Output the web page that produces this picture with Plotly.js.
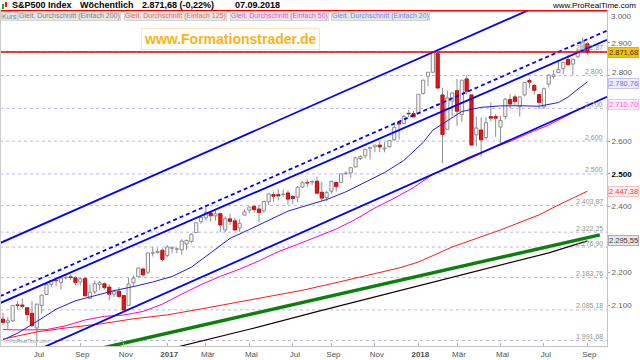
<!DOCTYPE html>
<html><head><meta charset="utf-8">
<script src="https://cdn.plot.ly/plotly-3.0.1.min.js"></script>
<style>html,body{margin:0;padding:0;background:#fff;}#chart{width:640px;height:360px;}</style>
</head><body><div id="chart"></div>
<script>
// ---- weekly S&P500 candles ----
const dates = ["2016-05-13","2016-05-20","2016-05-27","2016-06-03","2016-06-10","2016-06-17","2016-06-24","2016-07-01","2016-07-08","2016-07-15","2016-07-22","2016-07-29","2016-08-05","2016-08-12","2016-08-19","2016-08-26","2016-09-02","2016-09-09","2016-09-16","2016-09-23","2016-09-30","2016-10-07","2016-10-14","2016-10-21","2016-10-28","2016-11-04","2016-11-11","2016-11-18","2016-11-25","2016-12-02","2016-12-09","2016-12-16","2016-12-23","2016-12-30",
"2017-01-06","2017-01-13","2017-01-20","2017-01-27","2017-02-03","2017-02-10","2017-02-17","2017-02-24","2017-03-03","2017-03-10","2017-03-17","2017-03-24","2017-03-31","2017-04-07","2017-04-14","2017-04-21","2017-04-28","2017-05-05","2017-05-12","2017-05-19","2017-05-26","2017-06-02","2017-06-09","2017-06-16","2017-06-23","2017-06-30","2017-07-07","2017-07-14","2017-07-21","2017-07-28","2017-08-04","2017-08-11","2017-08-18","2017-08-25","2017-09-01","2017-09-08","2017-09-15","2017-09-22","2017-09-29","2017-10-06","2017-10-13","2017-10-20","2017-10-27","2017-11-03","2017-11-10","2017-11-17","2017-11-24","2017-12-01","2017-12-08","2017-12-15","2017-12-22","2017-12-29",
"2018-01-05","2018-01-12","2018-01-19","2018-01-26","2018-02-02","2018-02-09","2018-02-16","2018-02-23","2018-03-02","2018-03-09","2018-03-16","2018-03-23","2018-03-30","2018-04-06","2018-04-13","2018-04-20","2018-04-27","2018-05-04","2018-05-11","2018-05-18","2018-05-25","2018-06-01","2018-06-08","2018-06-15","2018-06-22","2018-06-29","2018-07-06","2018-07-13","2018-07-20","2018-07-27","2018-08-03","2018-08-10","2018-08-17","2018-08-24","2018-08-31","2018-09-07"];
const open = [2057,2047,2052,2100,2100,2092,2075,2030,2099,2132,2163,2175,2169,2183,2186,2183,2170,2181,2120,2140,2163,2165,2155,2133,2142,2129,2099,2168,2186,2210,2200,2258,2260,2267,
2251,2273,2270,2268,2286,2294,2321,2354,2366,2381,2372,2379,2329,2363,2357,2335,2374,2389,2401,2393,2387,2415,2437,2437,2437,2442,2431,2429,2460,2473,2475,2478,2444,2428,2447,2474,2474,2501,2503,2521,2547,2555,2578,2583,2588,2576,2583,2604,2657,2654,2685,2684,
2684,2745,2798,2810,2867,2741,2636,2722,2754,2681,2790,2741,2619,2634,2611,2675,2675,2643,2675,2727,2735,2705,2741,2785,2770,2742,2704,2774,2797,2809,2821,2849,2835,2857,2876,2897];
const high = [2076,2064,2100,2111,2120,2093,2113,2103,2132,2169,2176,2178,2183,2194,2194,2188,2184,2187,2162,2175,2173,2169,2163,2147,2155,2131,2182,2190,2214,2214,2260,2278,2273,2273,
2283,2279,2276,2301,2300,2319,2352,2367,2401,2383,2390,2382,2370,2378,2366,2361,2391,2400,2404,2406,2418,2440,2446,2454,2453,2450,2436,2463,2478,2484,2480,2491,2475,2448,2480,2474,2500,2508,2519,2552,2557,2575,2582,2588,2598,2597,2604,2657,2657,2680,2695,2692,
2743,2787,2810,2872.87,2870,2763,2754,2748,2790,2786,2802,2742,2675,2672,2674,2718,2683,2677,2732,2743,2742,2737,2779,2791,2775,2743,2764,2804,2816,2848,2840,2864,2851,2877,2916,2901];
const low = [2039,2025,2048,2086,2089,2050,2033,1992,2074,2131,2154,2157,2147,2178,2176,2160,2160,2128,2119,2134,2145,2147,2114,2125,2120,2084,2098,2156,2186,2187,2195,2248,2257,2233,
2245,2258,2258,2254,2268,2288,2319,2348,2358,2354,2358,2322,2322,2344,2328,2323,2374,2380,2381,2353,2382,2405,2415,2419,2430,2406,2407,2413,2457,2459,2466,2437,2418,2417,2441,2446,2474,2496,2488,2520,2542,2547,2544,2566,2566,2566,2580,2601,2605,2651,2673,2673,
2683,2742,2768,2808,2759,2533,2635,2675,2647,2659,2743,2588,2585,2553,2605,2660,2613,2594,2666,2701,2707,2675,2736,2761,2742,2698,2698,2764,2790,2808,2804,2833,2802,2854,2873,2864];
const close = [2047,2052,2099,2099,2096,2071,2037,2103,2130,2162,2175,2174,2183,2184,2184,2169,2180,2128,2139,2165,2168,2153,2133,2141,2126,2085,2164,2182,2213,2192,2259,2258,2263,2239,
2277,2275,2271,2295,2297,2316,2351,2367,2383,2372,2378,2344,2363,2355,2329,2349,2384,2399,2391,2382,2416,2439,2432,2433,2438,2423,2425,2459,2473,2472,2477,2441,2426,2443,2477,2461,2500,2502,2519,2549,2553,2575,2581,2588,2582,2579,2602,2642,2652,2675,2683,2674,
2743,2786,2810,2872.87,2762,2620,2732,2747,2691,2786,2752,2588,2640,2604,2656,2670,2670,2663,2728,2713,2721,2735,2779,2780,2755,2718,2760,2801,2802,2819,2840,2833,2850,2875,2902,2871.68];

// ---- moving averages (week index -> value) ----
const ma20Idx = [0,3,7,11,15,19,23,27,31,35,39,43,47,51,55,59,63,67,71,75,79,83,87,89,91,93,95,99,103,107,111,115,117,119,121];
const ma20Val = [1993.7,2013.9,2049.7,2087.4,2113,2128.9,2143.8,2156.3,2170.3,2187,2215.4,2259.3,2303.4,2330.4,2359,2386.4,2404.2,2421.6,2445.5,2473.9,2504.1,2541.2,2596.2,2633.4,2652.4,2673,2690.4,2703.1,2707.5,2708,2706.4,2717.7,2734.4,2758.4,2780.76];
const ma50Idx = [0,1,5,9,13,17,21,25,29,33,37,41,45,49,53,57,61,65,69,73,77,81,85,89,93,97,101,105,109,113,117,121];
const ma50Val = [2025.3,2024.5,2024.1,2025,2036.7,2054.5,2065.5,2069.4,2080.4,2102.7,2133.2,2162.1,2187.5,2209.5,2234.7,2262.9,2285,2307.9,2331.8,2361.3,2396.1,2425.7,2458.3,2499,2526.8,2554.3,2576.5,2599.4,2625.2,2649.3,2679.4,2710.70];
const ma125Idx = [0,7,13,20,27,34,41,51,62,68,75,82,86,93,103,111,115,121];
const ma125Val = [1996,2018,2030,2042,2058,2070,2088,2115,2145,2165,2188,2213,2231,2277,2329,2375,2405,2447.38];
const ma200Idx = [30,37,51,65,79,86,93,103,113,121];
const ma200Val = [1950,1975,2026,2080,2132,2158,2184,2220,2259,2295.55];

// ---- trend / channel lines (date, value) ----
const xStart = "2016-05-08 15:00", xEnd = "2018-10-05 10:00";
const chanDates = [xStart, xEnd];
const chanUpper = [2289, 3105];
const chanMid = [2106, 2909];
const chanDash = [2127, 2937];
const chanLower = [1912, 2735];
const greenDates = ["2016-09-30", "2018-09-25"];
const greenVals = [1967, 2314];

// ---- horizontal levels ----
const levelValues = [2872.87, 2800, 2700, 2600, 2500, 2403.87, 2322.25, 2276.90, 2183.76, 2085.18, 1991.68];
const priceLine = 2871.68;
const topLine = 2998;

// ---- axis ticks ----
const xTickVals = ["2016-07-01","2016-09-02","2016-11-04","2017-01-06","2017-03-03","2017-05-05","2017-07-07","2017-09-01","2017-11-03","2018-01-05","2018-03-02","2018-05-04","2018-07-06","2018-09-07"];
const xTickText = ["Jul","Sep","Nov","<b>2017</b>","Mär","Mai","Jul","Sep","Nov","<b>2018</b>","Mär","Mai","Jul","Sep"];
const yTickVals = [2100,2200,2400,2500,2600,2800,2900];
const yTopLabel = 3000;
const yNudgedLabel = 2800;   // drawn as a label nudged above the SMA20 box

function de(v){
  const dec = Number.isInteger(v) ? 0 : 2;
  let [i, f] = v.toFixed(dec).split('.');
  i = i.replace(/\B(?=(\d{3})+(?!\d))/g, '.');
  return f ? i + ',' + f : i;
}

// wicks (outside the body) and bodies
const wx = [], wy = [], bBase = [], bH = [], bCol = [], bLine = [];
for (let k = 0; k < dates.length; k++) {
  const lo = Math.min(open[k], close[k]), hi = Math.max(open[k], close[k]);
  wx.push(dates[k], dates[k], null, dates[k], dates[k], null);
  wy.push(low[k], lo, null, hi, high[k], null);
  bBase.push(lo); bH.push(Math.max(hi - lo, 1.5));
  const down = close[k] < open[k];
  bCol.push(down ? '#e3141c' : '#f8f8f8');
  bLine.push(down ? '#b40c0c' : '#8e8e8e');
}
const DAY = 86400000;
const pick = (idx) => idx.map(i => dates[i]);

const traces = [
  {type:'bar', x:dates, y:bH, base:bBase, width:4.6*DAY,
   marker:{color:bCol, line:{color:bLine, width:1}}, hoverinfo:'skip'},
  {type:'scatter', mode:'lines', x:wx, y:wy, line:{color:'#8e8e8e', width:1}, hoverinfo:'skip'},
  {type:'scatter', mode:'lines', x:pick(ma200Idx), y:ma200Val, line:{color:'#1a0000', width:1.2}},
  {type:'scatter', mode:'lines', x:greenDates, y:greenVals, line:{color:'#0b800b', width:3.5}},
  {type:'scatter', mode:'lines', x:pick(ma125Idx), y:ma125Val, line:{color:'#ff1a1a', width:1}},
  {type:'scatter', mode:'lines', x:pick(ma50Idx), y:ma50Val, line:{color:'#ff00cc', width:1}},
  {type:'scatter', mode:'lines', x:pick(ma20Idx), y:ma20Val, line:{color:'#1f1fdf', width:1}},
  {type:'scatter', mode:'lines', x:chanDates, y:chanUpper, line:{color:'#0000ff', width:1.8}},
  {type:'scatter', mode:'lines', x:chanDates, y:chanMid, line:{color:'#0000ff', width:1.8}},
  {type:'scatter', mode:'lines', x:chanDates, y:chanDash, line:{color:'#0000ff', width:1.8, dash:'4px,3px'}},
  {type:'scatter', mode:'lines', x:chanDates, y:chanLower, line:{color:'#0000ff', width:1.8}}
];

const PW = 607, PB = 346, PH = 336;
const px = v => v / PW;
const py = v => (PB - v) / PH;
const FONT = 'Liberation Sans, Arial, sans-serif';

const shapes = [];
levelValues.forEach(v => shapes.push({type:'line', xref:'paper', x0:0, x1:1, yref:'y', y0:v, y1:v, layer:'below',
  line:{color:'#bcb6e6', width:1, dash:'dot'}}));
shapes.push({type:'line', xref:'paper', x0:0, x1:1, yref:'y', y0:priceLine, y1:priceLine, line:{color:'#e00000', width:1.5}});
shapes.push({type:'line', xref:'paper', x0:0, x1:1, yref:'y', y0:topLine, y1:topLine, line:{color:'#ff0000', width:1.5}});
shapes.push({type:'line', xref:'paper', x0:0, x1:0, yref:'paper', y0:0, y1:1, line:{color:'#cccccc', width:2}});
// small header icon
shapes.push({type:'rect', xref:'paper', yref:'paper', x0:px(2), x1:px(4), y0:py(9), y1:py(4), fillcolor:'#22aa22', line:{width:0}});
shapes.push({type:'rect', xref:'paper', yref:'paper', x0:px(5), x1:px(7), y0:py(7), y1:py(2), fillcolor:'#dd2222', line:{width:0}});

const ann = [];
// header
[["S&P500 Index",10],["Wöchentlich",78],["2.871,68 (-0,22%)",140],["07.09.2018",233]].forEach(([t,x]) =>
  ann.push({xref:'paper', yref:'paper', x:px(x), y:py(5), xanchor:'left', yanchor:'middle', showarrow:false,
    text:'<b>'+t+'</b>', font:{family:FONT, size:9, color:'#000'}}));
ann.push({xref:'paper', yref:'paper', x:px(638), y:py(5), xanchor:'right', yanchor:'middle', showarrow:false,
  text:'www.ProRealTime.com', font:{family:FONT, size:8, color:'#000'}});
// top axis label (sits just under the header)
ann.push({xref:'paper', yref:'paper', x:1, y:py(16), xanchor:'left', yanchor:'middle', xshift:2, showarrow:false,
  text:de(yTopLabel), font:{family:FONT, size:8, color:'#606060'}});
// 2.800 axis label, nudged up slightly
ann.push({xref:'paper', yref:'y', x:1, y:yNudgedLabel, xanchor:'left', yanchor:'middle', xshift:3, yshift:3, showarrow:false,
  text:de(yNudgedLabel), font:{family:FONT, size:8, color:'#606060'}});
// indicator legend line
[["Kurs",1,'#808080'],["Gleit. Durchschnitt (Einfach 200)",18,'#808080'],["Gleit. Durchschnitt (Einfach 125)",124,'#ff5a5a'],
 ["Gleit. Durchschnitt (Einfach 50)",230,'#ff44dd'],["Gleit. Durchschnitt (Einfach 20)",331,'#7a7aff']].forEach(([t,x,c]) =>
  ann.push({xref:'paper', yref:'paper', x:px(x), y:py(16), xanchor:'left', yanchor:'middle', showarrow:false,
    text:t, font:{family:FONT, size:7, color:c}, bgcolor:'#e6e6e6', bordercolor:'#d4d4d4', borderwidth:1, borderpad:0}));
// watermark
ann.push({xref:'paper', yref:'paper', x:px(230), y:py(38.5), xanchor:'center', yanchor:'middle', showarrow:false,
  text:'<b>www.Formationstrader.de</b>', font:{family:FONT, size:14, color:'#fcb316'},
  bgcolor:'#ffffff', bordercolor:'#fbe4bd', borderwidth:1, borderpad:2});
ann.push({xref:'paper', yref:'paper', x:px(2), y:py(341), xanchor:'left', yanchor:'middle', showarrow:false,
  text:'© ProRealTime.com', font:{family:FONT, size:5, color:'#9a9a9a'}});
// level labels
levelValues.forEach(v => ann.push({xref:'paper', yref:'y', x:1, y:v, xanchor:'right', yanchor:'middle', xshift:-2, yshift:4,
  showarrow:false, text:de(v), font:{family:FONT, size:7, color:'#8e9884'}}));
// right axis value boxes
[[close[close.length-1],'#f5c400','#e0b000','#3a3000',0],
 [ma20Val[ma20Val.length-1],'#eeeeff','#c4c4f2','#6e6eff',-2],
 [ma50Val[ma50Val.length-1],'#fff0fb','#f2c4e4','#ff55cc',0],
 [ma125Val[ma125Val.length-1],'#fff0f0','#f4c4c4','#ff3333',0],
 [ma200Val[ma200Val.length-1],'#e6e6e6','#b0b0b0','#404040',0]].forEach(([v,bg,bc,tc,ys]) =>
  ann.push({xref:'paper', yref:'y', x:1, y:v, xanchor:'left', yanchor:'middle', xshift:1, yshift:ys, showarrow:false,
    text:de(v), font:{family:FONT, size:7.5, color:tc}, bgcolor:bg, bordercolor:bc, borderwidth:1, borderpad:0}));

const layout = {
  width:640, height:360,
  margin:{l:0, r:33, t:10, b:14, pad:0},
  paper_bgcolor:'#ffffff', plot_bgcolor:'#ffffff',
  showlegend:false, hovermode:false, barmode:'overlay',
  font:{family:FONT},
  xaxis:{type:'date', range:[xStart, xEnd], tickvals:xTickVals, ticktext:xTickText,
    tickfont:{family:FONT, size:8, color:'#505050'}, ticks:'inside', ticklen:3, tickcolor:'#b4b4b4',
    ticklabelshift:2,
    showgrid:false, zeroline:false, showline:true, linecolor:'#c4c4c4', linewidth:1,
    rangeslider:{visible:false}, fixedrange:true},
  yaxis:{side:'right', range:[1975, 3000], tickvals:yTickVals,
    ticktext:yTickVals.map(v => v === yNudgedLabel ? '' :
      (v === 2500 ? '<span style="fill:#000000"><b>'+de(v)+'</b></span>' : de(v))),
    tickfont:{family:FONT, size:8, color:'#606060'}, ticks:'outside', ticklen:2, tickcolor:'#a0a0a0',
    showgrid:false, zeroline:false, showline:true, linecolor:'#c4c4c4', linewidth:1, fixedrange:true},
  shapes:shapes, annotations:ann
};
Plotly.newPlot('chart', traces, layout, {staticPlot:true, displayModeBar:false});
</script></body></html>
